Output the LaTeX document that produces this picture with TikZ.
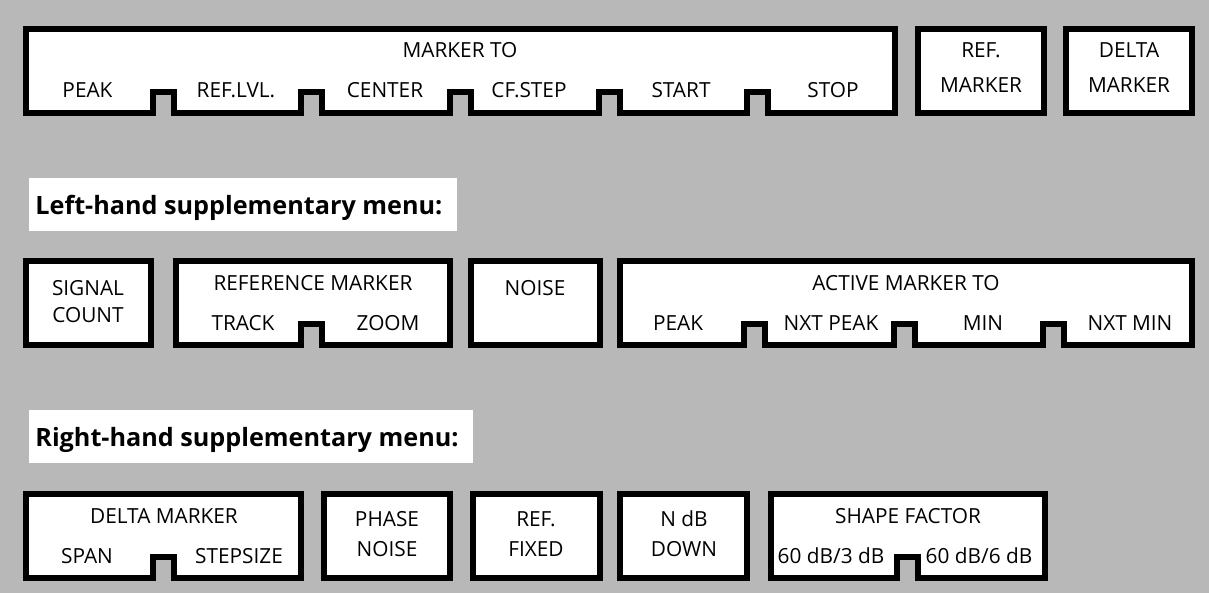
\documentclass[tikz,border=0pt]{standalone}
\usepackage{fontspec}
\setmainfont{Open Sans}
\definecolor{bgcol}{gray}{0.72}
\tikzset{
  boxline/.style={draw=black, line width=3pt, fill=white, line join=miter},
  lbl/.style={inner sep=0pt, anchor=base, font=\fontsize{10.4}{12}\selectfont},
  hdr/.style={inner sep=0pt, anchor=base west, font=\fontsize{12.6}{14}\selectfont\bfseries},
}
\begin{document}
\begin{tikzpicture}[x=0.5pt,y=-0.5pt]
\fill[bgcol] (0,0) rectangle (1209,593);
\useasboundingbox (0,0) rectangle (1209,593);
% ---------- Row 1 ----------
\draw[boxline] (25.5,29) -- (895,29) -- (895,113)
  -- (767.5,113) -- (767.5,92) -- (746.5,92) -- (746.5,113)
  -- (619.5,113) -- (619.5,92) -- (598.5,92) -- (598.5,113)
  -- (470.5,113) -- (470.5,92) -- (449.5,92) -- (449.5,113)
  -- (322,113) -- (322,92) -- (301,92) -- (301,113)
  -- (174,113) -- (174,92) -- (153,92) -- (153,113)
  -- (25.5,113) -- cycle;
\draw[boxline] (918,29) rectangle (1044,113);
\draw[boxline] (1066,29) rectangle (1192,113);
\node[lbl] (mto) at (460,58) {MARKER TO};
\node[lbl] (mpeak) at (87.5,98) {PEAK};
\node[lbl] (mref) at (236,98) {REF.LVL.};
\node[lbl] (mcen) at (385,98) {CENTER};
\node[lbl] (mcf) at (529,98) {CF.STEP};
\node[lbl] (mstart) at (681,98) {START};
\node[lbl] (mstop) at (833,98) {STOP};
\node[lbl] (refa) at (981,58) {REF.};
\node[lbl] (refb) at (981,93) {MARKER};
\node[lbl] (dela) at (1129,58) {DELTA};
\node[lbl] (delb) at (1129,93) {MARKER};
% ---------- Header 1 ----------
\fill[white] (29,178) rectangle (457,231);
\node[hdr] (h1) at (35,214) {Left-hand supplementary menu:};
% ---------- Row 2 ----------
\draw[boxline] (25.5,261) rectangle (151,345);
\draw[boxline] (176,261) -- (449.5,261) -- (449.5,345)
  -- (322,345) -- (322,324) -- (301,324) -- (301,345)
  -- (176,345) -- cycle;
\draw[boxline] (470.5,261) rectangle (599.5,345);
\draw[boxline] (620,261) -- (1191.5,261) -- (1191.5,345)
  -- (1063.5,345) -- (1063.5,324) -- (1042.5,324) -- (1042.5,345)
  -- (914.5,345) -- (914.5,324) -- (893.5,324) -- (893.5,345)
  -- (764.5,345) -- (764.5,324) -- (743.5,324) -- (743.5,345)
  -- (620,345) -- cycle;
\node[lbl] (sig) at (88,295) {SIGNAL};
\node[lbl] (cnt) at (88,322) {COUNT};
\node[lbl] (rmk) at (313,290) {REFERENCE MARKER};
\node[lbl] (trk) at (243,330) {TRACK};
\node[lbl] (zm) at (388,330) {ZOOM};
\node[lbl] (noi) at (535,295) {NOISE};
\node[lbl] (amt) at (906,290) {ACTIVE MARKER TO};
\node[lbl] (apk) at (678,330) {PEAK};
\node[lbl] (anp) at (831,330) {NXT PEAK};
\node[lbl] (amin) at (983,330) {MIN};
\node[lbl] (anm) at (1130,330) {NXT MIN};
% ---------- Header 2 ----------
\fill[white] (29,410) rectangle (473,463);
\node[hdr] (h2) at (35,446) {Right-hand supplementary menu:};
% ---------- Row 3 ----------
\draw[boxline] (25.5,494) -- (301,494) -- (301,578)
  -- (174,578) -- (174,557) -- (153,557) -- (153,578)
  -- (25.5,578) -- cycle;
\draw[boxline] (324,494) rectangle (450,578);
\draw[boxline] (472.5,494) rectangle (599.5,578);
\draw[boxline] (620,494) rectangle (747,578);
\draw[boxline] (771,494) -- (1045,494) -- (1045,578)
  -- (917.5,578) -- (917.5,557) -- (896.5,557) -- (896.5,578)
  -- (771,578) -- cycle;
\node[lbl] (dm) at (164,523) {DELTA MARKER};
\node[lbl] (span) at (87,563) {SPAN};
\node[lbl] (step) at (239,563) {STEPSIZE};
\node[lbl] (pha) at (387,526) {PHASE};
\node[lbl] (phb) at (387,556) {NOISE};
\node[lbl] (rfa) at (536,526) {REF.};
\node[lbl] (rfb) at (536,556) {FIXED};
\node[lbl] (nda) at (684,526) {N dB};
\node[lbl] (ndb) at (684,556) {DOWN};
\node[lbl] (sf) at (908,523) {SHAPE FACTOR};
\node[lbl] (sfa) at (831,563) {60 dB/3 dB};
\node[lbl] (sfb) at (979,563) {60 dB/6 dB};
\end{tikzpicture}
\end{document}
